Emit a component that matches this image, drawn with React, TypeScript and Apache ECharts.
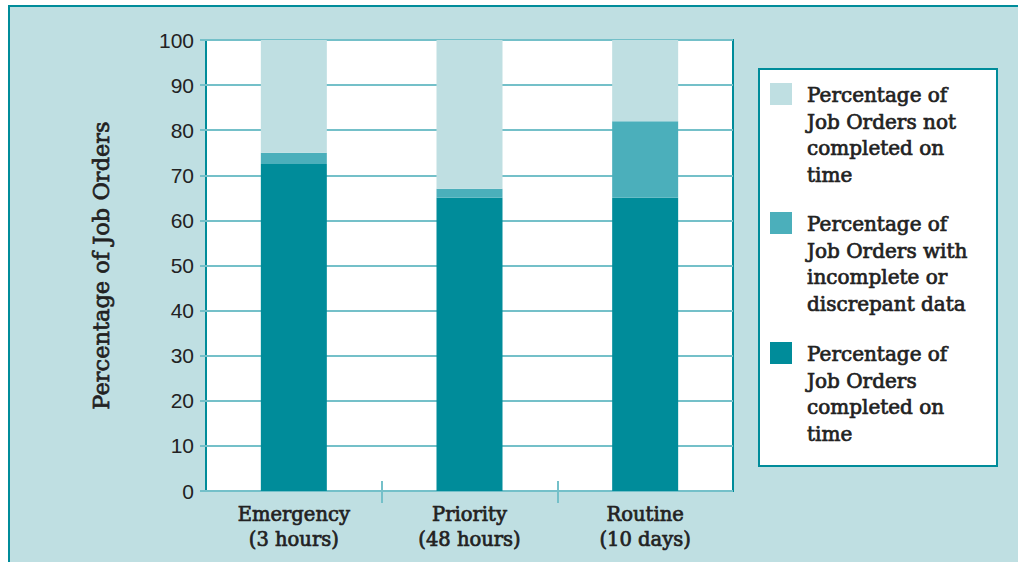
import React, { useEffect, useRef } from "react";
import * as echarts from "echarts";

const categories = ["Emergency\n(3 hours)", "Priority\n(48 hours)", "Routine\n(10 days)"];
const completedOnTime = [72.5, 65, 65];
const incompleteData = [2.5, 2, 17];
const notCompleted = [25, 33, 18];
const boundaryTicks = [1, 2];
const legendLabels = [
  "Percentage of\nJob Orders not\ncompleted on\ntime",
  "Percentage of\nJob Orders with\nincomplete or\ndiscrepant data",
  "Percentage of\nJob Orders\ncompleted on\ntime",
];

const DARK = "#008c9a";
const MID = "#4bafbb";
const LIGHT = "#bfdfe2";
const GRIDC = "#74c0c9";
const TEXT = "#222222";
const SERIF = "'DejaVu Serif', serif";

export default function App() {
  const ref = useRef<HTMLDivElement>(null);
  useEffect(() => {
    const chart = echarts.init(ref.current!, null, { renderer: "svg" });
    const legendColors = [LIGHT, MID, DARK];
    const legendTops = [83, 212, 342];
    const legendItems: any[] = [];
    legendLabels.forEach((t, i) => {
      legendItems.push({
        type: "rect",
        shape: { x: 770, y: legendTops[i], width: 22, height: 22 },
        style: { fill: legendColors[i] },
        z: 10,
      });
      legendItems.push({
        type: "text",
        x: 807,
        y: legendTops[i] - 1,
        style: {
          text: t,
          fontFamily: SERIF,
          fontSize: 20,
          lineHeight: 26.5,
          fill: TEXT,
          stroke: TEXT,
          lineWidth: 0.7,
          verticalAlign: "top",
        },
        z: 10,
      });
    });
    const tickAxis = (inside: boolean, length: number) => ({
      type: "value",
      min: 0,
      max: 3,
      position: "bottom",
      axisLine: { show: false },
      splitLine: { show: false },
      axisLabel: { show: false },
      axisTick: {
        show: true,
        inside,
        length,
        customValues: boundaryTicks,
        lineStyle: { color: GRIDC, width: 2 },
      },
      z: 5,
    });
    chart.setOption({
      animation: false,
      backgroundColor: "#ffffff",
      graphic: [
        {
          type: "rect",
          shape: { x: 9, y: 6, width: 1030, height: 600 },
          style: { fill: LIGHT, stroke: DARK, lineWidth: 2 },
          z: -10,
          silent: true,
        },
        {
          type: "rect",
          shape: { x: 759, y: 69, width: 238, height: 397 },
          style: { fill: "#ffffff", stroke: DARK, lineWidth: 2 },
          z: 9,
        },
        ...legendItems,
      ],
      grid: {
        left: 206,
        right: 1018 - 733,
        top: 40,
        bottom: 562 - 491,
        show: true,
        backgroundColor: "#ffffff",
        borderColor: DARK,
        borderWidth: 2,
      },
      xAxis: [
        {
          type: "category",
          data: categories,
          axisLine: { show: false },
          axisTick: { show: false },
          axisLabel: {
            fontFamily: SERIF,
            fontSize: 19.5,
            lineHeight: 25,
            color: TEXT,
            textBorderColor: TEXT,
            textBorderWidth: 0.7,
            margin: 11,
          },
          z: 5,
        },
        tickAxis(true, 10),
        tickAxis(false, 12),
      ],
      yAxis: {
        type: "value",
        min: 0,
        max: 100,
        interval: 10,
        name: "Percentage of Job Orders",
        nameLocation: "middle",
        nameGap: 94,
        nameTextStyle: {
          fontFamily: SERIF,
          fontSize: 22.5,
          color: TEXT,
          textBorderColor: TEXT,
          textBorderWidth: 0.7,
        },
        axisLine: { show: false },
        axisTick: { show: true, length: 6, lineStyle: { color: GRIDC, width: 2 } },
        axisLabel: {
          fontFamily: "'Liberation Sans', sans-serif",
          fontSize: 21,
          color: TEXT,
          margin: 12,
        },
        splitLine: { show: true, lineStyle: { color: GRIDC, width: 2 } },
        z: 2,
      },
      series: [
        {
          name: "completed",
          type: "bar",
          stack: "s",
          barWidth: 66,
          data: completedOnTime,
          itemStyle: { color: DARK },
          z: 3,
        },
        {
          name: "incomplete",
          type: "bar",
          stack: "s",
          barWidth: 66,
          data: incompleteData,
          itemStyle: { color: MID },
          z: 3,
        },
        {
          name: "not completed",
          type: "bar",
          stack: "s",
          barWidth: 66,
          data: notCompleted,
          itemStyle: { color: LIGHT },
          z: 3,
        },
      ],
    });
    return () => chart.dispose();
  }, []);
  return (
    <div
      ref={ref}
      style={{ position: "fixed", left: 0, top: 0, width: 1018, height: 562 }}
    />
  );
}
